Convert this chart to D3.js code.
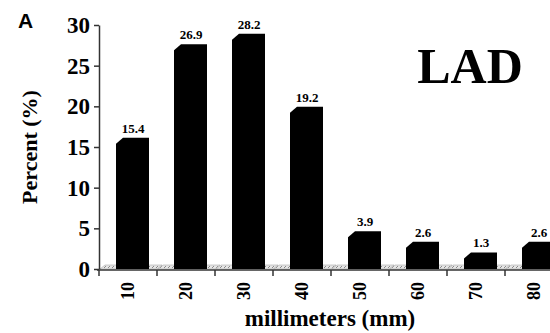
<!DOCTYPE html>
<html>
<head>
<meta charset="utf-8">
<script src="https://cdn.jsdelivr.net/npm/d3@7"></script>
<style>
  body { margin: 0; background: #fff; }
  svg { display: block; }
</style>
</head>
<body>
<svg id="chart" width="550" height="333"></svg>
<script>
// data
const categories = ["10", "20", "30", "40", "50", "60", "70", "80"];
const percents = [15.4, 26.9, 28.2, 19.2, 3.9, 2.6, 1.3, 2.6];
const yTicks = [0, 5, 10, 15, 20, 25, 30];

const svg = d3.select("svg#chart");
const serif = "\"Liberation Serif\", \"Times New Roman\", serif";

const x = d3.scaleBand().domain(categories).range([99, 99 + 58 * categories.length]);
const y = d3.scaleLinear().domain([0, 30]).range([269, 25]);

// speckled floor pattern
const defs = svg.append("defs");
const pat = defs.append("pattern")
    .attr("id", "hatch")
    .attr("width", 4).attr("height", 4)
    .attr("patternUnits", "userSpaceOnUse");
pat.append("rect").attr("width", 4).attr("height", 4).attr("fill", "#e6e6e6");
pat.append("path").attr("d", "M0,4 L2,2").attr("stroke", "#8a8a8a").attr("stroke-width", 1);

// floor slabs behind bars
svg.append("g").selectAll("path")
    .data(categories)
    .join("path")
    .attr("d", d => {
        const x0 = x(d) + 1, x1 = x(d) + x.bandwidth();
        return `M${x0},${y(0)} L${x0 + 5},${y(0) - 4} L${x1 + 5},${y(0) - 4} L${x1},${y(0)} Z`;
    })
    .attr("fill", "url(#hatch)")
    .attr("stroke", "#999")
    .attr("stroke-width", 0.5);

// bars with chamfered top-left corner
svg.append("g").selectAll("path")
    .data(percents)
    .join("path")
    .attr("d", (v, i) => {
        const x0 = x(categories[i]) + 17, x1 = x0 + 33;
        const t = y(v);
        return `M${x0},${y(0)} L${x0},${t} L${x0 + 7},${t - 6} L${x1},${t - 6} L${x1},${y(0)} Z`;
    })
    .attr("fill", "#000");

// value labels
svg.append("g").selectAll("text")
    .data(percents)
    .join("text")
    .attr("x", (v, i) => x(categories[i]) + 34)
    .attr("y", v => y(v) - 11)
    .attr("text-anchor", "middle")
    .style("font-family", serif)
    .style("font-weight", "bold")
    .style("font-size", "13px")
    .text(d => d.toFixed(1));

// y axis
const yAxis = svg.append("g")
    .attr("transform", "translate(99,0)")
    .call(d3.axisLeft(y).tickValues(yTicks).tickSize(5).tickSizeOuter(0));
yAxis.select(".domain").attr("stroke", "#333").attr("stroke-width", 1.5);
yAxis.selectAll(".tick line").attr("stroke", "#333").attr("stroke-width", 1.5);
yAxis.selectAll(".tick text")
    .attr("x", -9)
    .style("font-family", serif)
    .style("font-weight", "bold")
    .style("font-size", "23px")
    .attr("fill", "#000");

// x axis
const xAxis = svg.append("g")
    .attr("transform", "translate(0,270)");
xAxis.append("line")
    .attr("x1", 97).attr("x2", 550)
    .attr("stroke", "#333").attr("stroke-width", 1.5);
xAxis.selectAll("line.tick")
    .data(categories)
    .join("line")
    .attr("class", "tick")
    .attr("x1", d => x(d)).attr("x2", d => x(d))
    .attr("y1", 0).attr("y2", 6)
    .attr("stroke", "#333").attr("stroke-width", 1.5);
xAxis.selectAll("text")
    .data(categories)
    .join("text")
    .attr("transform", d => `translate(${x(d) + x.bandwidth() / 2 + 6},12) rotate(-90)`)
    .attr("text-anchor", "end")
    .style("font-family", serif)
    .style("font-weight", "bold")
    .style("font-size", "18px")
    .text(d => d);

// titles
svg.append("text")
    .attr("transform", "translate(37,147) rotate(-90)")
    .attr("text-anchor", "middle")
    .style("font-family", serif)
    .style("font-weight", "bold")
    .style("font-size", "22px")
    .text("Percent (%)");

svg.append("text")
    .attr("x", 330).attr("y", 326)
    .attr("text-anchor", "middle")
    .style("font-family", serif)
    .style("font-weight", "bold")
    .style("font-size", "23px")
    .text("millimeters (mm)");

svg.append("text")
    .attr("x", 18).attr("y", 28)
    .style("font-family", "\"Liberation Sans\", Arial, sans-serif")
    .style("font-weight", "bold")
    .style("font-size", "21px")
    .text("A");

svg.append("text")
    .attr("x", 470).attr("y", 83)
    .attr("text-anchor", "middle")
    .style("font-family", serif)
    .style("font-weight", "bold")
    .style("font-size", "50px")
    .text("LAD");
</script>
</body>
</html>
